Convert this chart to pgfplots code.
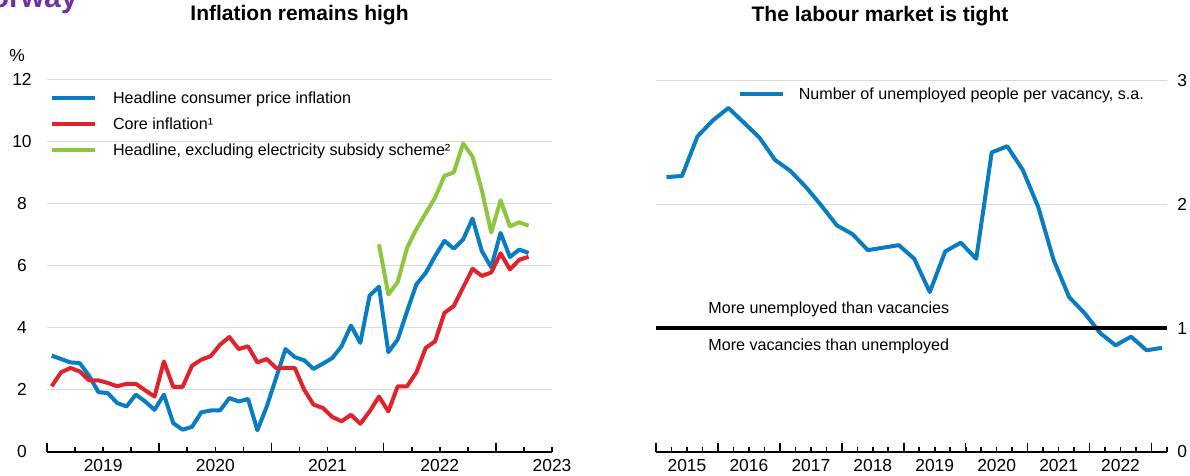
\documentclass[border=0pt]{standalone}
\usepackage{fontspec}
\setmainfont{Liberation Sans}
\usepackage{pgfplots}
\usepackage{pgfplotstable}
\pgfplotsset{compat=1.18}
\definecolor{cblue}{HTML}{0A7CC1}
\definecolor{cred}{HTML}{E0232B}
\definecolor{cgreen}{HTML}{8DC63F}
\definecolor{cpurple}{HTML}{7030A0}
\definecolor{cgrid}{HTML}{DADADA}
\newcommand\tickfont{\fontsize{8.7bp}{10bp}\selectfont}
\newcommand\legfont{\fontsize{8.05bp}{9.6bp}\selectfont}
\newcommand\titlefont{\fontsize{10.5bp}{12bp}\selectfont\bfseries}

\pgfplotstableread{
m head core excl
0.5 3.10 2.11 nan
1.5 2.99 2.56 nan
2.5 2.88 2.70 nan
3.5 2.86 2.59 nan
4.5 2.45 2.30 nan
5.5 1.92 2.30 nan
6.5 1.89 2.22 nan
7.5 1.57 2.11 nan
8.5 1.46 2.19 nan
9.5 1.84 2.19 nan
10.5 1.62 1.98 nan
11.5 1.35 1.78 nan
12.5 1.84 2.91 nan
13.5 0.92 2.09 nan
14.5 0.71 2.09 nan
15.5 0.80 2.77 nan
16.5 1.27 2.97 nan
17.5 1.33 3.08 nan
18.5 1.33 3.45 nan
19.5 1.73 3.70 nan
20.5 1.62 3.31 nan
21.5 1.70 3.40 nan
22.5 0.69 2.88 nan
23.5 1.46 2.99 nan
24.5 2.38 2.70 nan
25.5 3.31 2.70 nan
26.5 3.05 2.70 nan
27.5 2.95 2.00 nan
28.5 2.67 1.52 nan
29.5 2.84 1.41 nan
30.5 3.02 1.12 nan
31.5 3.40 0.98 nan
32.5 4.07 1.19 nan
33.5 3.51 0.90 nan
34.5 5.04 1.30 nan
35.5 5.32 1.78 6.69
36.5 3.21 1.30 5.07
37.5 3.62 2.11 5.47
38.5 4.53 2.11 6.58
39.5 5.40 2.56 7.18
40.5 5.77 3.35 7.69
41.5 6.31 3.56 8.20
42.5 6.80 4.48 8.90
43.5 6.55 4.70 9.01
44.5 6.85 5.30 9.94
45.5 7.52 5.90 9.52
46.5 6.47 5.67 8.43
47.5 5.95 5.78 7.07
48.5 7.06 6.40 8.11
49.5 6.28 5.88 7.27
50.5 6.52 6.19 7.40
51.5 6.41 6.29 7.29
}\inflation

\pgfplotstableread{
t ratio
2015.17 2.22
2015.42 2.23
2015.67 2.55
2015.92 2.68
2016.17 2.78
2016.42 2.66
2016.67 2.54
2016.92 2.36
2017.17 2.27
2017.42 2.14
2017.67 1.99
2017.92 1.83
2018.17 1.76
2018.42 1.63
2018.67 1.65
2018.92 1.67
2019.17 1.56
2019.42 1.29
2019.67 1.62
2019.92 1.69
2020.17 1.56
2020.42 2.42
2020.67 2.47
2020.92 2.28
2021.17 1.98
2021.42 1.55
2021.67 1.25
2021.92 1.12
2022.17 0.96
2022.42 0.86
2022.67 0.93
2022.92 0.82
2023.17 0.84
}\labour

\pgfplotsset{
  common/.style={
    anchor=south west, scale only axis,
    axis x line*=bottom,
    y axis line style={draw=none},
    x axis line style={black, line width=0.8bp},
    ytick style={draw=none},
    xtick style={black, line width=0.8bp},
    minor tick style={black, line width=0.8bp},
    tick align=inside,
    major tick length=4.5bp, minor tick length=2.2bp,
    ymajorgrids, major grid style={cgrid, line width=0.6bp},
    tick label style={font=\tickfont},
    /pgf/number format/assume math mode=true,
    xticklabels={},
    extra x tick style={major tick length=0pt, xticklabel style={anchor=center, yshift=-7bp, inner sep=0pt}},
    legend cell align=left,
    legend image code/.code={\draw[##1, line width=2bp, line cap=butt] (0bp,0bp) -- (21.5bp,0bp);},
    clip=false,
  }
}

\begin{document}
\begin{tikzpicture}
\useasboundingbox (0,0) rectangle (595bp,238bp);
\node[anchor=base east, text=cpurple, font=\fontsize{15bp}{17bp}\selectfont\bfseries, inner sep=0pt] at (39bp,234bp) {Norway};
\node[font=\tickfont, inner sep=0pt] at (8.5bp,210bp) {\%};

\begin{axis}[common,
  at={(23.5bp,12.15bp)}, width=252.5bp, height=186bp,
  xmin=0, xmax=54, ymin=0, ymax=12,
  axis y line*=left,
  ytick={0,2,...,12},
  yticklabel style={anchor=center, xshift=-12.5bp, inner sep=0pt},
  xtick={0,12,24,36,48},
  minor xtick={0,3,...,54},
  extra x ticks={6,18,30,42,54},
  extra x tick labels={2019,2020,2021,2022,2023},
  title={Inflation remains high},
  title style={font=\titlefont, at={(0.5,1)}, anchor=base, yshift=23.5bp, inner sep=0pt},
  legend style={at={(0.006,0.881)}, anchor=west, draw=none, fill=none, font=\legfont,
    row sep=5.5bp, inner sep=0pt, outer sep=0pt,
    nodes={inner sep=0pt, text height=6.5bp, text depth=1.0bp},
    /tikz/every odd column/.append style={column sep=8bp}},
]
\addplot[cblue, line width=2bp, line join=round] table[x=m, y=head] {\inflation};
\addlegendentry{Headline consumer price inflation}
\addplot[cred, line width=2bp, line join=round] table[x=m, y=core] {\inflation};
\addlegendentry{Core inflation¹}
\addplot[cgreen, line width=2bp, line join=round, unbounded coords=jump] table[x=m, y=excl] {\inflation};
\addlegendentry{Headline, excluding electricity subsidy scheme²}
\end{axis}

\begin{axis}[common,
  at={(328bp,12.15bp)}, width=255.5bp, height=185.5bp,
  xmin=2015, xmax=2023.25, ymin=0, ymax=3,
  axis y line*=right,
  ytick={0,1,2,3},
  yticklabel style={anchor=west, xshift=5bp, inner sep=0pt},
  xtick={2015,...,2023},
  minor xtick={2015,2015.25,...,2023.25},
  extra x ticks={2015.5,2016.5,2017.5,2018.5,2019.5,2020.5,2021.5,2022.5},
  extra x tick labels={2015,2016,2017,2018,2019,2020,2021,2022},
  title={The labour market is tight},
  title style={font=\titlefont, at={(0.5,1)}, anchor=base, yshift=23.5bp, xshift=-15.75bp, inner sep=0pt},
  legend style={at={(0.160,0.963)}, anchor=west, draw=none, fill=none, font=\legfont,
    inner sep=0pt, outer sep=0pt,
    nodes={inner sep=0pt, text height=6.5bp, text depth=1.0bp},
    /tikz/every odd column/.append style={column sep=7bp}},
]
\addplot[cblue, line width=2bp, line join=round] table[x=t, y=ratio] {\labour};
\addlegendentry{Number of unemployed people per vacancy, s.a.}
\addplot[black, line width=1.6bp, forget plot] coordinates {(2015,1) (2023.25,1)};
\node[anchor=base west, font=\legfont, inner sep=0pt] at (axis cs:2015.84,1.119) {More unemployed than vacancies};
\node[anchor=base west, font=\legfont, inner sep=0pt] at (axis cs:2015.84,0.817) {More vacancies than unemployed};
\end{axis}
\end{tikzpicture}
\end{document}
